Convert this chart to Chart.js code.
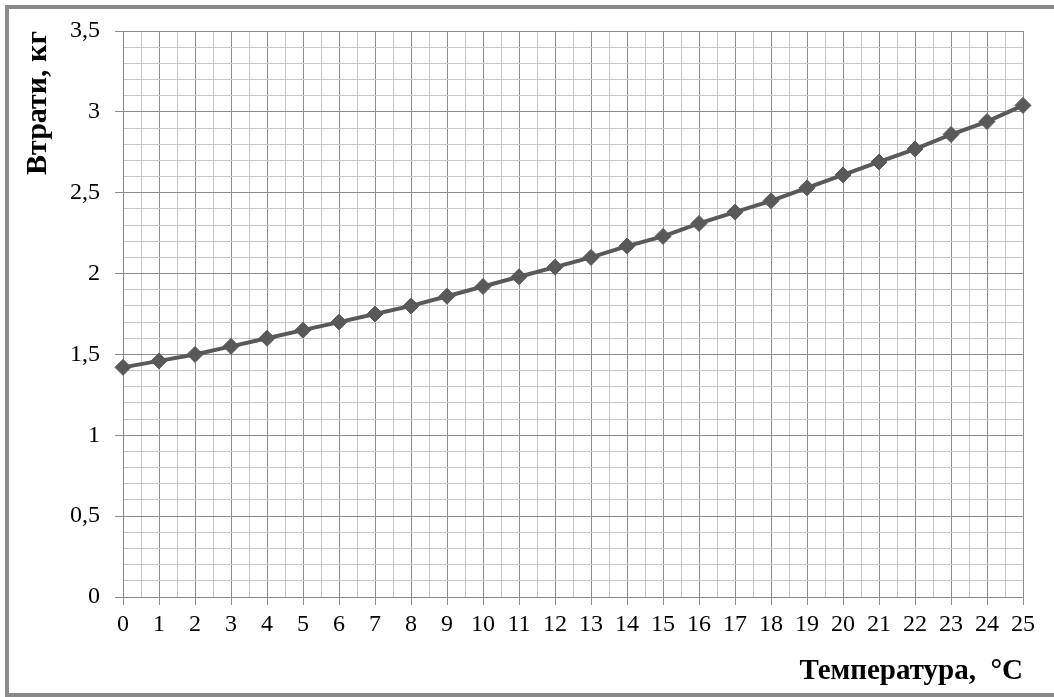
<!DOCTYPE html>
<html>
<head>
<meta charset="utf-8">
<script src="https://cdn.jsdelivr.net/npm/chart.js@4.4.1/dist/chart.umd.min.js"></script>
<style>
  html, body { margin: 0; padding: 0; background: #ffffff; overflow: hidden; }
  #wrap { position: relative; width: 1054px; height: 697px; }
  #frame { position: absolute; left: 5px; top: 5px; width: 1100px; height: 684px;
           border: 4px solid #8a8a8a; pointer-events: none; z-index: 2; }
  canvas { position: absolute; left: 0; top: 0; }
</style>
</head>
<body>
<div id="wrap">
  <canvas id="c" width="1054" height="697"></canvas>
  <div id="frame"></div>
</div>
<script>
// Data
const temperatures = [0, 1, 2, 3, 4, 5, 6, 7, 8, 9, 10, 11, 12, 13, 14, 15, 16, 17, 18, 19, 20, 21, 22, 23, 24, 25];
const losses = [1.42, 1.46, 1.50, 1.55, 1.60, 1.65, 1.70, 1.75, 1.80, 1.86, 1.92, 1.98, 2.04, 2.10, 2.17, 2.23, 2.31, 2.38, 2.45, 2.53, 2.61, 2.69, 2.77, 2.86, 2.94, 3.04];
const xTitle = 'Температура,  °C';
const yTitle = 'Втрати, кг';
const yMin = 0, yMax = 3.5, yLabelStep = 0.5, yGridStep = 0.1;
const xMin = 0, xMax = 25, xGridStep = 0.5;

const MAJOR = '#8c8c8c';
const MINOR = '#c6c6c6';
const isMult = (v, s) => Math.abs(v / s - Math.round(v / s)) < 1e-6;

const points = temperatures.map((t, i) => ({ x: t, y: losses[i] }));

new Chart(document.getElementById('c'), {
  type: 'line',
  data: {
    datasets: [{
      data: points,
      borderColor: '#595959',
      backgroundColor: '#595959',
      borderWidth: 4,
      pointStyle: 'rectRot',
      pointRadius: 8,
      pointBorderWidth: 1,
      pointBorderColor: '#595959',
      pointBackgroundColor: '#595959',
      tension: 0,
      fill: false,
      clip: false
    }]
  },
  options: {
    responsive: false,
    animation: false,
    devicePixelRatio: 1,
    layout: { padding: { left: 0, top: 31, right: 31, bottom: 0 } },
    plugins: { legend: { display: false }, tooltip: { enabled: false } },
    scales: {
      x: {
        type: 'linear',
        min: xMin, max: xMax,
        afterFit: s => { s.height = 100; },
        ticks: {
          stepSize: xGridStep,
          autoSkip: false,
          maxRotation: 0, minRotation: 0,
          padding: 5,
          color: '#000000',
          font: { family: '"Liberation Serif", "Times New Roman", serif', size: 24 },
          callback: v => isMult(v, 1) ? String(Math.round(v)) : ''
        },
        grid: {
          color: c => isMult(c.tick.value, 1) ? MAJOR : MINOR,
          tickColor: c => isMult(c.tick.value, 1) ? MAJOR : 'rgba(0,0,0,0)',
          tickLength: 8,
          lineWidth: 1
        },
        border: { color: '#868686', width: 1 },
        title: {
          display: true,
          text: xTitle,
          align: 'end',
          color: '#000000',
          font: { family: '"Liberation Serif", "Times New Roman", serif', size: 29, weight: 'bold' },
          padding: { top: 0, bottom: 8 }
        }
      },
      y: {
        type: 'linear',
        min: yMin, max: yMax,
        afterFit: s => { s.width = 123; },
        ticks: {
          stepSize: yGridStep,
          autoSkip: false,
          padding: 15,
          color: '#000000',
          font: { family: '"Liberation Serif", "Times New Roman", serif', size: 24 },
          callback: v => isMult(v, yLabelStep) ? String(Math.round(v * 10) / 10).replace('.', ',') : ''
        },
        grid: {
          color: c => isMult(c.tick.value, yLabelStep) ? MAJOR : MINOR,
          tickColor: c => isMult(c.tick.value, yLabelStep) ? MAJOR : 'rgba(0,0,0,0)',
          tickLength: 8,
          lineWidth: 1
        },
        border: { color: '#868686', width: 1 },
        title: {
          display: true,
          text: yTitle,
          align: 'end',
          color: '#000000',
          font: { family: '"Liberation Serif", "Times New Roman", serif', size: 30, weight: 'bold' },
          padding: { top: 20, bottom: 0 }
        }
      }
    }
  }
});
</script>
</body>
</html>
